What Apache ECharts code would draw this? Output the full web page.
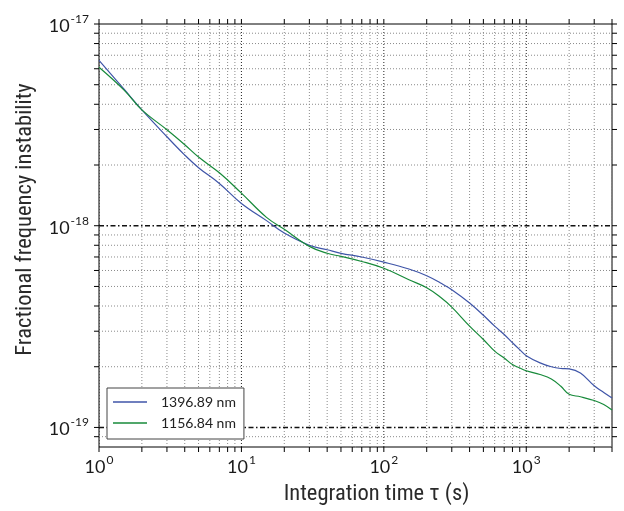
<!DOCTYPE html>
<html>
<head>
<meta charset="utf-8">
<script src="https://cdn.jsdelivr.net/npm/echarts@6/dist/echarts.min.js"></script>
<style>
html,body{margin:0;padding:0;background:#fff;}
#chart{width:624px;height:511px;}
</style>
</head>
<body>
<div id="chart"></div>
<script>
// ---- data ----
var tau = [1, 1.5, 2, 3, 4, 5, 7, 10, 15, 20, 30, 40, 50, 70, 100, 150, 200, 250, 300, 400, 500, 600, 700, 800, 900, 1000, 1250, 1500, 1750, 2000, 2400, 3000, 3500, 4000];
var sigma1396 = [6.6e-18, 4.75e-18, 3.75e-18, 2.76e-18, 2.24e-18, 1.94e-18, 1.62e-18, 1.29e-18, 1.06e-18, 9.2e-19, 8.0e-19, 7.6e-19, 7.3e-19, 7.0e-19, 6.6e-19, 6.1e-19, 5.65e-19, 5.2e-19, 4.82e-19, 4.14e-19, 3.6e-19, 3.18e-19, 2.89e-19, 2.63e-19, 2.43e-19, 2.27e-19, 2.09e-19, 2.0e-19, 1.96e-19, 1.95e-19, 1.86e-19, 1.61e-19, 1.49e-19, 1.40e-19];
var sigma1156 = [6.1e-18, 4.7e-18, 3.75e-18, 2.99e-18, 2.52e-18, 2.19e-18, 1.83e-18, 1.45e-18, 1.10e-18, 9.6e-19, 7.9e-19, 7.3e-19, 7.05e-19, 6.65e-19, 6.15e-19, 5.4e-19, 4.93e-19, 4.42e-19, 3.95e-19, 3.18e-19, 2.73e-19, 2.39e-19, 2.21e-19, 2.05e-19, 1.97e-19, 1.91e-19, 1.83e-19, 1.74e-19, 1.60e-19, 1.46e-19, 1.42e-19, 1.36e-19, 1.30e-19, 1.22e-19];
var seriesNames = ['1396.89 nm', '1156.84 nm'];

// axis ranges and tick values
var X_MIN = 1, X_MAX = 4000;
var Y_MIN = 8e-20, Y_MAX = 1e-17;
var xMajor = [1, 10, 100, 1000];
var xMinor = [2, 3, 4, 5, 6, 7, 8, 9, 20, 30, 40, 50, 60, 70, 80, 90, 200, 300, 400, 500, 600, 700, 800, 900, 2000, 3000, 4000];
var yMajor = [1e-19, 1e-18, 1e-17];
var yMinor = [9e-20, 2e-19, 3e-19, 4e-19, 5e-19, 6e-19, 7e-19, 8e-19, 9e-19, 2e-18, 3e-18, 4e-18, 5e-18, 6e-18, 7e-18, 8e-18, 9e-18];
var yRef = [1e-19, 1e-18];

var xTitle = 'Integration time \u03c4 (s)';
var yTitle = 'Fractional frequency instability';

function pairs(xs, ys) { return xs.map(function (x, i) { return [x, ys[i]]; }); }

function expLabel(v) {
  var l = Math.log10(v);
  var e = Math.round(l);
  if (!isFinite(l) || Math.abs(l - e) > 1e-6) return '';
  return '{b|10}{e|' + e + '}';
}

var labelRich = {
  b: { fontSize: 18, fontFamily: 'Lato', color: '#1a1a1a', verticalAlign: 'bottom' },
  e: { fontSize: 12, fontFamily: 'Lato', color: '#1a1a1a', verticalAlign: 'bottom', padding: [0, 0, 10, 1] }
};

var titleFont = "'Liberation Sans Narrow', 'Arial Narrow', 'Roboto Condensed', sans-serif";

function vLine(color, dash, width) {
  return function (params, api) {
    var x = api.value(0);
    var a = api.coord([x, Y_MIN]);
    var b = api.coord([x, Y_MAX]);
    return { type: 'line', shape: { x1: a[0], y1: a[1], x2: b[0], y2: b[1] },
      style: { stroke: color, lineWidth: width, lineDash: dash } };
  };
}
function hLine(color, dash, width) {
  return function (params, api) {
    var y = api.value(1);
    var a = api.coord([X_MIN, y]);
    var b = api.coord([X_MAX, y]);
    return { type: 'line', shape: { x1: a[0], y1: a[1], x2: b[0], y2: b[1] },
      style: { stroke: color, lineWidth: width, lineDash: dash } };
  };
}
var TL = 5;
function xTicks(params, api) {
  var x = api.value(0);
  var a = api.coord([x, Y_MIN]);
  var b = api.coord([x, Y_MAX]);
  return { type: 'group', children: [
    { type: 'line', shape: { x1: a[0], y1: a[1], x2: a[0], y2: a[1] + TL }, style: { stroke: '#000', lineWidth: 1 } },
    { type: 'line', shape: { x1: b[0], y1: b[1] - TL, x2: b[0], y2: b[1] }, style: { stroke: '#000', lineWidth: 1 } }
  ] };
}
function yTicks(params, api) {
  var y = api.value(1);
  var a = api.coord([X_MIN, y]);
  var b = api.coord([X_MAX, y]);
  return { type: 'group', children: [
    { type: 'line', shape: { x1: a[0] - TL, y1: a[1], x2: a[0], y2: a[1] }, style: { stroke: '#000', lineWidth: 1 } },
    { type: 'line', shape: { x1: b[0], y1: b[1], x2: b[0] + TL, y2: b[1] }, style: { stroke: '#000', lineWidth: 1 } }
  ] };
}
function customSeries(data, render, clip, z) {
  return { type: 'custom', coordinateSystem: 'cartesian2d', silent: true, clip: clip, z: z,
    encode: { x: 0, y: 1 }, data: data, renderItem: render, animation: false };
}

var chart = echarts.init(document.getElementById('chart'));
var option = {
  animation: false,
  backgroundColor: '#fff',
  grid: { left: 99, right: 12, top: 24, bottom: 63, show: true, borderColor: '#000', borderWidth: 1, backgroundColor: 'transparent' },
  xAxis: {
    type: 'log', logBase: 10, min: X_MIN, max: X_MAX,
    name: xTitle, nameLocation: 'middle', nameGap: 36,
    nameTextStyle: { fontFamily: titleFont, fontSize: 22.5, color: '#2a2a2a', padding: [0, 0, 0, 42] },
    axisLine: { show: false }, axisTick: { show: false }, splitLine: { show: false },
    axisLabel: { margin: 7, formatter: expLabel, rich: labelRich, showMinLabel: true, showMaxLabel: true, hideOverlap: false }
  },
  yAxis: {
    type: 'log', logBase: 10, min: Y_MIN, max: Y_MAX,
    name: yTitle, nameLocation: 'middle', nameGap: 62,
    nameTextStyle: { fontFamily: titleFont, fontSize: 22.5, color: '#2a2a2a', padding: [0, 0, 0, 32] },
    axisLine: { show: false }, axisTick: { show: false }, splitLine: { show: false },
    axisLabel: { margin: 10, formatter: expLabel, rich: labelRich, showMinLabel: true, showMaxLabel: true, hideOverlap: false }
  },
  legend: {
    data: seriesNames,
    orient: 'vertical', left: 107, top: 388,
    backgroundColor: '#fff', borderColor: '#444', borderWidth: 1,
    padding: [7, 8, 9, 6],
    icon: 'rect',
    itemWidth: 34, itemHeight: 1.6, itemGap: 7,
    textStyle: { fontFamily: 'Lato', fontSize: 14, lineHeight: 14, color: '#222', padding: [0, 0, 0, 9] }
  },
  series: [
    customSeries(xMinor.map(function (v) { return [v, Y_MIN]; }), vLine('#8a8a8a', [1, 2], 1), true, 1),
    customSeries(xMajor.map(function (v) { return [v, Y_MIN]; }), vLine('#222', [1, 2], 1), true, 1),
    customSeries(yMinor.map(function (v) { return [X_MIN, v]; }), hLine('#8a8a8a', [1, 2], 1), true, 1),
    customSeries(yRef.map(function (v) { return [X_MIN, v]; }), hLine('#111', [5, 2.5, 1.5, 2.5], 1.4), true, 2),
    customSeries(xMajor.concat(xMinor).map(function (v) { return [v, Y_MIN]; }), xTicks, false, 3),
    customSeries(yMajor.concat(yMinor).map(function (v) { return [X_MIN, v]; }), yTicks, false, 3),
    { name: seriesNames[0], type: 'line', data: pairs(tau, sigma1396), smooth: 0.4, showSymbol: false, symbol: 'none',
      lineStyle: { color: '#3f55a8', width: 1.2 }, itemStyle: { color: '#3f55a8' }, z: 5 },
    { name: seriesNames[1], type: 'line', data: pairs(tau, sigma1156), smooth: 0.4, showSymbol: false, symbol: 'none',
      lineStyle: { color: '#178a3a', width: 1.2 }, itemStyle: { color: '#178a3a' }, z: 5 }
  ]
};
chart.setOption(option);
</script>
</body>
</html>
